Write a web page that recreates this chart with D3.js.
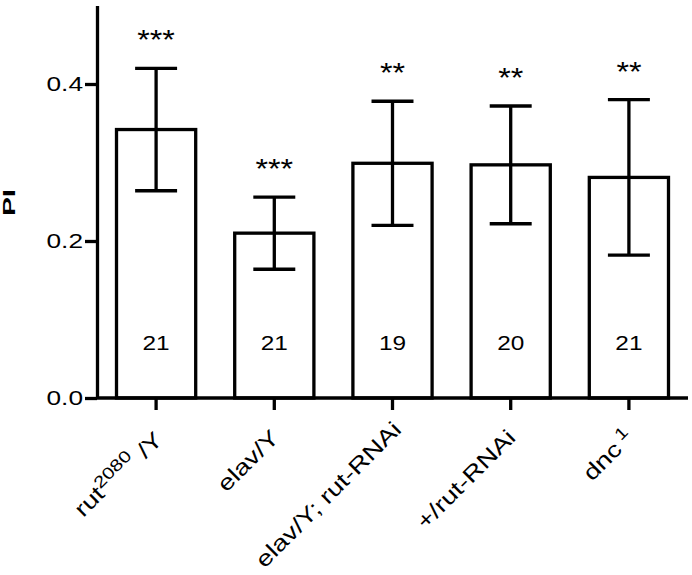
<!DOCTYPE html>
<html>
<head>
<meta charset="utf-8">
<script src="https://cdn.jsdelivr.net/npm/d3@7"></script>
<style>
  body { margin: 0; background: #fff; }
  text { font-family: "Liberation Sans", Arial, sans-serif; fill: #000; }
</style>
</head>
<body>
<div id="my_dataviz"></div>
<script>
// data
var groups = ["rut2080/Y", "elav/Y", "elav/Y; rut-RNAi", "+/rut-RNAi", "dnc1"]
var labelBase = ["rut", "elav/Y", "elav/Y; rut-RNAi", "+/rut-RNAi", "dnc"]
var labelSup = ["2080", "", "", "", "1"]
var labelTail = [" /Y", "", "", "", ""]
var means = [0.342, 0.210, 0.299, 0.297, 0.281]
var errs = [0.078, 0.046, 0.079, 0.075, 0.099]
var counts = [21, 21, 19, 20, 21]
var stars = ["***", "***", "**", "**", "**"]
var yTicks = [0.0, 0.2, 0.4]

var width = 692
    height = 575

var svg = d3.select("#my_dataviz")
  .append("svg")
    .attr("width", width)
    .attr("height", height)

// scales
var x = d3.scaleBand()
  .domain(groups)
  .range([97, 688])
  .paddingInner(0.33)
  .paddingOuter(0.165)

var y = d3.scaleLinear()
  .domain([0, 0.5])
  .range([398, 5.5])

var stretch = 1.25   // the text in the figure is drawn wide

function cx(d) { return x(d) + x.bandwidth() / 2 }

// bars
svg.selectAll("rect.bar")
  .data(groups)
  .enter()
  .append("rect")
    .attr("class", "bar")
    .attr("x", function(d) { return x(d) })
    .attr("width", x.bandwidth())
    .attr("y", function(d, i) { return y(means[i]) })
    .attr("height", function(d, i) { return y(0) - y(means[i]) })
    .attr("fill", "#fff")
    .attr("stroke", "#000")
    .attr("stroke-width", 3.3)

// error bars
var cap = x.bandwidth() * 0.265
var eb = svg.selectAll("g.err")
  .data(groups)
  .enter()
  .append("g")
    .attr("class", "err")
    .attr("stroke", "#000")
    .attr("stroke-width", 3.3)

eb.append("line")
  .attr("x1", cx)
  .attr("x2", cx)
  .attr("y1", function(d, i) { return y(means[i] + errs[i]) })
  .attr("y2", function(d, i) { return y(means[i] - errs[i]) })

eb.append("line")
  .attr("x1", function(d) { return cx(d) - cap })
  .attr("x2", function(d) { return cx(d) + cap })
  .attr("y1", function(d, i) { return y(means[i] + errs[i]) })
  .attr("y2", function(d, i) { return y(means[i] + errs[i]) })

eb.append("line")
  .attr("x1", function(d) { return cx(d) - cap })
  .attr("x2", function(d) { return cx(d) + cap })
  .attr("y1", function(d, i) { return y(means[i] - errs[i]) })
  .attr("y2", function(d, i) { return y(means[i] - errs[i]) })

// n inside bars
svg.selectAll("text.n")
  .data(groups)
  .enter()
  .append("text")
    .attr("class", "n")
    .attr("transform", function(d) { return "translate(" + cx(d) + "," + (y(0) - 48) + ") scale(" + stretch + ",1)" })
    .attr("text-anchor", "middle")
    .style("font-size", "19.5px")
    .text(function(d, i) { return counts[i] })

// significance stars
svg.selectAll("text.star")
  .data(groups)
  .enter()
  .append("text")
    .attr("class", "star")
    .attr("transform", function(d, i) { return "translate(" + cx(d) + "," + (y(means[i] + errs[i]) - 19) + ") scale(1.15,1)" })
    .attr("text-anchor", "middle")
    .style("font-size", "28px")
    .text(function(d, i) { return stars[i] })

// y axis
var yAxis = svg.append("g")
  .attr("transform", "translate(97,0)")
  .call(d3.axisLeft(y).tickValues(yTicks).tickSize(12).tickSizeOuter(0).tickFormat(d3.format(".1f")))

yAxis.selectAll("path, line").attr("stroke", "#000").attr("stroke-width", 3.3)
yAxis.selectAll("text").remove()

svg.selectAll("text.ytick")
  .data(yTicks)
  .enter()
  .append("text")
    .attr("class", "ytick")
    .attr("transform", function(d) { return "translate(83," + y(d) + ") scale(" + stretch + ",1)" })
    .attr("text-anchor", "end")
    .attr("dy", "0.33em")
    .style("font-size", "21px")
    .text(function(d) { return d3.format(".1f")(d) })

// x axis
var xAxis = svg.append("g")
  .attr("transform", "translate(0," + y(0) + ")")
  .call(d3.axisBottom(x).tickSize(12).tickSizeOuter(0))

xAxis.select(".domain").attr("d", "M97,0H688")
xAxis.selectAll("path, line").attr("stroke", "#000").attr("stroke-width", 3.3)
xAxis.selectAll("text").remove()

var labY = y(0) + 30
var xl = svg.selectAll("text.xlab")
  .data(groups)
  .enter()
  .append("text")
    .attr("class", "xlab")
    .attr("transform", function(d) { return "translate(" + (cx(d) - 5) + "," + labY + ") rotate(-45) scale(" + stretch + ",1)" })
    .attr("text-anchor", "end")
    .attr("dy", "0.71em")
    .style("font-size", "22px")

xl.append("tspan").text(function(d, i) { return labelBase[i] })
xl.append("tspan")
  .attr("dy", "-0.5em")
  .attr("dx", function(d, i) { return labelBase[i] == "dnc" ? 4 : 0 })
  .style("font-size", "16.5px")
  .text(function(d, i) { return labelSup[i] })
xl.append("tspan")
  .attr("dy", function(d, i) { return labelSup[i] ? "0.5em" : 0 })
  .text(function(d, i) { return labelTail[i] })

// long labels would run off the bottom: lift them so they stay in view
xl.each(function(d) {
  var b = this.getBoundingClientRect()
  var over = b.bottom - (height - 3)
  if (over > 0) {
    d3.select(this).attr("transform", "translate(" + (cx(d) - 1) + "," + (labY - over) + ") rotate(-45) scale(" + stretch + ",1)")
  }
})

// y title
svg.append("text")
  .attr("transform", "translate(15,202.5) rotate(-90) scale(1.75,1)")
  .attr("text-anchor", "middle")
  .style("font-size", "16px")
  .style("font-weight", "bold")
  .text("PI")
</script>
</body>
</html>
